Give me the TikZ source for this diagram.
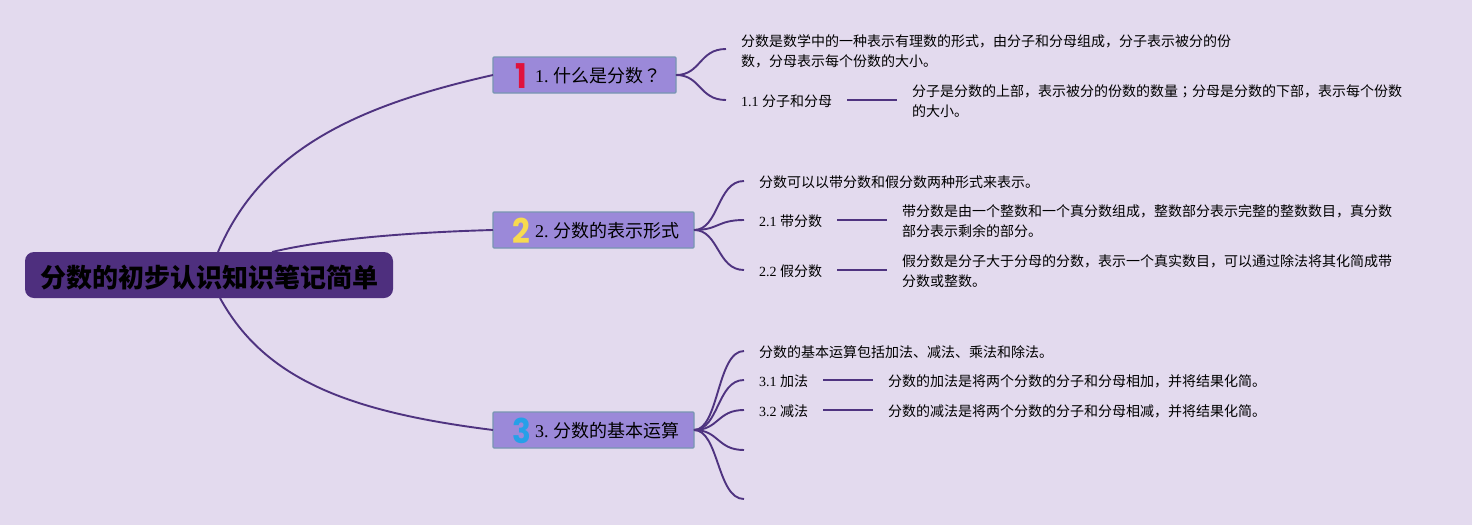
\documentclass[tikz,border=0pt]{standalone}
\usepackage{fontspec}
\usepackage{graphicx}
\usetikzlibrary{calc}
\setmainfont{Liberation Serif}
\newfontfamily\cjk{Noto Sans CJK SC}
\newfontfamily\cjkmark{Noto Sans CJK JP}
\newfontfamily\iconfont{Poppins}
\newcommand{\cj}[1]{{\cjk #1}}
\newcommand{\mk}[1]{{\cjkmark #1}}
\newcommand{\numicon}[2]{\makebox[27pt]{\smash{\raisebox{-5.5pt}{\textcolor{#1}{\scalebox{1}[1.1]{\fontsize{31}{31}\iconfont\bfseries #2}}}}}}
\definecolor{myBack}{RGB}{227,218,238}
\definecolor{myRoot}{RGB}{78,47,126}
\definecolor{myLine}{RGB}{79,51,128}
\definecolor{myBranch}{RGB}{155,137,217}
\definecolor{myBorder}{RGB}{120,150,178}
\definecolor{myRed}{RGB}{224,18,60}
\definecolor{myYellow}{RGB}{247,218,80}
\definecolor{myBlue}{RGB}{38,160,232}

\begin{document}
\frenchspacing
\begin{tikzpicture}[%
    x=1pt,y=-1pt,
    every node/.style={
        inner ysep=0pt,
        outer sep=0pt,
    },
    rootbox/.style={
        fill=myRoot,
        rounded corners=9pt,
        minimum height=46pt,
        inner xsep=15pt,
        anchor=west,
        text height=27pt,
        text depth=3pt,
        font=\fontsize{26}{30}\selectfont\bfseries,
    },
    branchbox/.style={
        fill=myBranch,
        draw=myBorder,
        line width=1.2pt,
        rounded corners=1pt,
        minimum height=36pt,
        inner xsep=15pt,
        anchor=west,
        text height=17pt,
        text depth=2pt,
        font=\fontsize{18}{22}\selectfont,
    },
    leaftext/.style={
        anchor=west,
        align=left,
        inner xsep=15pt,
        font=\fontsize{14}{20}\selectfont,
    },
    leaflabel/.style={
        leaftext,
        text height=14.5pt,
        text depth=2pt,
    },
    link/.style={myLine,line width=1.9pt},
]
\useasboundingbox (0,0) rectangle (1472,525);
\fill[myBack] (0,0) rectangle (1472,525);

% main boxes
\node[rootbox] (root) at (25,275) {\cj{分数的初步认识知识笔记简单}};
\node[branchbox] (what) at (493,75) {\numicon{myRed}{1}1. \cj{什么是分数}\mk{？}};
\node[branchbox] (form) at (493,230) {\numicon{myYellow}{2}2. \cj{分数的表示形式}};
\node[branchbox] (calc) at (493,430) {\numicon{myBlue}{3}3. \cj{分数的基本运算}};

% first group
\coordinate (whatEnd) at (726,49);
\node[leaftext] (whatText) at (726,51.5) {\cj{分数是数学中的一种表示有理数的形式，由分子和分母组成，分子表示被分的份}\\\cj{数，分母表示每个份数的大小。}};
\node[leaflabel] (partsLabel) at (726,100) {1.1 \cj{分子和分母}};
\node[leaftext] (partsText) at (897,101.5) {\cj{分子是分数的上部，表示被分的份数的数量}\mk{；}\cj{分母是分数的下部，表示每个份数}\\\cj{的大小。}};

% second group
\node[leaflabel] (formText) at (744,181) {\cj{分数可以以带分数和假分数两种形式来表示。}};
\node[leaflabel] (mixedLabel) at (744,220) {2.1 \cj{带分数}};
\node[leaftext] (mixedText) at (887,221.5) {\cj{带分数是由一个整数和一个真分数组成，整数部分表示完整的整数数目，真分数}\\\cj{部分表示剩余的部分。}};
\node[leaflabel] (improperLabel) at (744,270) {2.2 \cj{假分数}};
\node[leaftext] (improperText) at (887,271.5) {\cj{假分数是分子大于分母的分数，表示一个真实数目，可以通过除法将其化简成带}\\\cj{分数或整数。}};

% third group
\node[leaflabel] (calcText) at (744,351) {\cj{分数的基本运算包括加法、减法、乘法和除法。}};
\node[leaflabel] (addLabel) at (744,380) {3.1 \cj{加法}};
\node[leaflabel] (addText) at (873,380) {\cj{分数的加法是将两个分数的分子和分母相加，并将结果化简。}};
\node[leaflabel] (subLabel) at (744,410) {3.2 \cj{减法}};
\node[leaflabel] (subText) at (873,410) {\cj{分数的减法是将两个分数的分子和分母相减，并将结果化简。}};
\coordinate (emptyA) at (744,450);
\coordinate (emptyB) at (744,499);

% curves from the root, drawn from its top and bottom edge
\draw[link] ([xshift=9pt]root.north) .. controls (262,148) and (360,105) .. (what.west);
\draw[link] ([xshift=63pt]root.north) .. controls (330,238) and (420,232) .. (form.west);
\draw[link] ([xshift=11pt]root.south) .. controls (265,380) and (350,412) .. (calc.west);

% curves to the leaves
\foreach \leaf in {whatEnd,partsLabel.west}{
    \draw[link] (what.east) .. controls +(25,0) and ($(\leaf)+(-27,0)$) .. (\leaf);
}
\foreach \leaf in {formText,mixedLabel,improperLabel}{
    \draw[link] (form.east) .. controls +(25,0) and ($(\leaf.west)+(-27,0)$) .. (\leaf.west);
}
\foreach \leaf in {calcText,addLabel,subLabel,emptyA,emptyB}{
    \draw[link] (calc.east) .. controls +(25,0) and ($(\leaf.west)+(-27,0)$) .. (\leaf.west);
}

% straight lines from label to text
\draw[link] (partsLabel.east) -- (partsLabel.east -| partsText.west);
\draw[link] (mixedLabel.east) -- (mixedLabel.east -| mixedText.west);
\draw[link] (improperLabel.east) -- (improperLabel.east -| improperText.west);
\draw[link] (addLabel.east) -- (addText.west);
\draw[link] (subLabel.east) -- (subText.west);
\end{tikzpicture}
\end{document}
